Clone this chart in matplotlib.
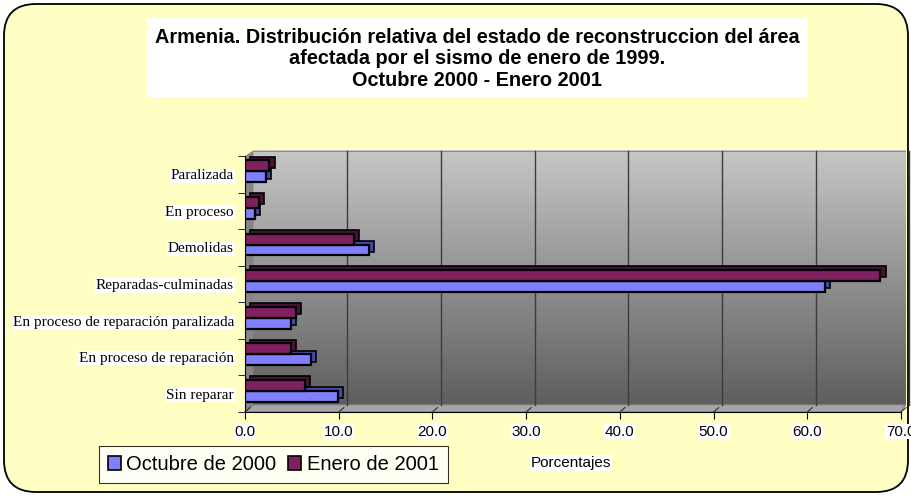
import numpy as np
import matplotlib
matplotlib.use("Agg")
import matplotlib.pyplot as plt
from matplotlib.patches import FancyBboxPatch, Rectangle, Polygon

categorias = ["Sin reparar", "En proceso de reparación",
              "En proceso de reparación paralizada", "Reparadas-culminadas",
              "Demolidas", "En proceso", "Paralizada"]
octubre_2000 = [9.9, 7.0, 4.9, 61.9, 13.2, 1.1, 2.2]
enero_2001 = [6.4, 4.9, 5.4, 67.8, 11.6, 1.5, 2.6]
ticks_x = [0, 10, 20, 30, 40, 50, 60, 70]

c_oct = "#8080FF"
c_oct_d = "#4848A8"
c_ene = "#802060"
c_ene_d = "#4A1238"

fig = plt.figure(figsize=(9.12, 4.96), dpi=100)
fig.patch.set_facecolor("white")
fig.patches.append(FancyBboxPatch((4 / 912, 4 / 496), 904 / 912, 488 / 496,
                                  boxstyle="round,pad=0,rounding_size=0.035",
                                  transform=fig.transFigure, facecolor="#FFFFC4",
                                  edgecolor="black", linewidth=1.3, zorder=-5,
                                  mutation_aspect=912 / 496))

# title box
fig.patches.append(Rectangle((147 / 912, 1 - 97 / 496), 661 / 912, 79 / 496,
                             transform=fig.transFigure, facecolor="white",
                             edgecolor="none", zorder=-4))
fig.text(477 / 912, 1 - 59 / 496,
         "Armenia. Distribución relativa del estado de reconstruccion del área\n"
         "afectada por el sismo de enero de 1999.\nOctubre 2000 - Enero 2001",
         ha="center", va="center", fontsize=14.3, fontweight="bold",
         family="Liberation Sans", linespacing=1.18, zorder=2)

ax = fig.add_axes([245 / 912, 84 / 496, 656 / 912, 256 / 496])
ax.set_zorder(3)
n = len(categorias)
ox, oy = 0.9, 0.2   # depth of the 3D walls

# back wall with vertical gradient
grad = np.linspace(0, 1, 256).reshape(-1, 1)
im = ax.imshow(grad, extent=(ox, 70 + ox * 0.55, -0.5 + oy, n - 0.5 + 0.15),
               aspect="auto", origin="lower", zorder=0,
               cmap=matplotlib.colors.LinearSegmentedColormap.from_list(
                   "g", ["#5E5E5E", "#C6C6C6"]))
im.set_clip_on(False)
ax.add_patch(Rectangle((ox, n - 0.5 + 0.1), 70 + ox * 0.55 - ox, 0.05,
                       facecolor="#8C8C8C", edgecolor="none", zorder=0.4, clip_on=False))
# left wall and floor
ax.add_patch(Polygon([(0, -0.5), (ox, -0.5 + oy), (ox, n - 0.5 + 0.15), (0, n - 0.5)],
                     facecolor="#858585", edgecolor="none", zorder=0.5, clip_on=False))
ax.add_patch(Polygon([(0, -0.5), (70, -0.5), (70 + ox * 0.55, -0.5 + oy), (ox, -0.5 + oy)],
                     facecolor="#A6A6A6", edgecolor="#7A7A7A", lw=0.8, zorder=0.5,
                     clip_on=False))
for t in ticks_x[1:]:
    ax.plot([t + ox, t + ox], [-0.5 + oy, n - 0.5 + 0.15], color="#3C3C3C", lw=1.0,
            zorder=1, clip_on=False)
for t in ticks_x:
    ax.plot([t, t + ox * 0.6], [-0.5, -0.5 + oy * 0.6], color="#303030", lw=0.8,
            zorder=1, clip_on=False)

y = np.arange(n)
h = 0.30
dx, dy = 0.55, 0.1
for vals, off, col, dcol in [(octubre_2000, -0.07, c_oct, c_oct_d),
                             (enero_2001, 0.23, c_ene, c_ene_d)]:
    ax.barh(y + off + dy, vals, left=dx, height=h, color=dcol,
            edgecolor="black", linewidth=1.2, zorder=2)
    ax.barh(y + off, vals, height=h, color=col, edgecolor="black",
            linewidth=1.6, zorder=3)

ax.set_xlim(0, 70)
ax.set_ylim(-0.5, n - 0.5)
ax.set_yticks(np.arange(n + 1) - 0.5, minor=True)
ax.set_yticks(y)
ax.set_yticklabels(categorias, family="Liberation Serif", fontsize=11)
ax.set_xticks(ticks_x)
ax.set_xticklabels([f"{t:.1f}" for t in ticks_x], family="Liberation Sans", fontsize=11)
for lab in ax.get_xticklabels() + ax.get_yticklabels():
    lab.set_bbox(dict(facecolor="white", edgecolor="none", pad=0.5))
ax.tick_params(axis="x", pad=4, length=5, direction="out")
ax.tick_params(axis="y", which="major", length=0, pad=8)
ax.tick_params(axis="y", which="minor", length=5, direction="out")
for s in ["top", "right"]:
    ax.spines[s].set_visible(False)

fig.text(571 / 912, 1 - 463 / 496, "Porcentajes", ha="center", va="center",
         fontsize=11, family="Liberation Sans",
         bbox=dict(facecolor="white", edgecolor="none", pad=0.5))

handles = [Rectangle((0, 0), 1, 1, facecolor=c_oct, edgecolor="black", lw=1.2),
           Rectangle((0, 0), 1, 1, facecolor=c_ene, edgecolor="black", lw=1.2)]
leg = fig.legend(handles, ["Octubre de 2000", "Enero de 2001"], ncol=2,
                 loc="lower left", bbox_to_anchor=(99 / 912, 13 / 496),
                 frameon=True, fancybox=False, handlelength=0.65, handleheight=0.65,
                 handletextpad=0.25, columnspacing=0.6, borderpad=0.45,
                 borderaxespad=0,
                 prop={"family": "Liberation Sans", "size": 14.5})
leg.get_frame().set_edgecolor("black")
leg.get_frame().set_linewidth(0.8)

fig.savefig("out.png", dpi=100)
